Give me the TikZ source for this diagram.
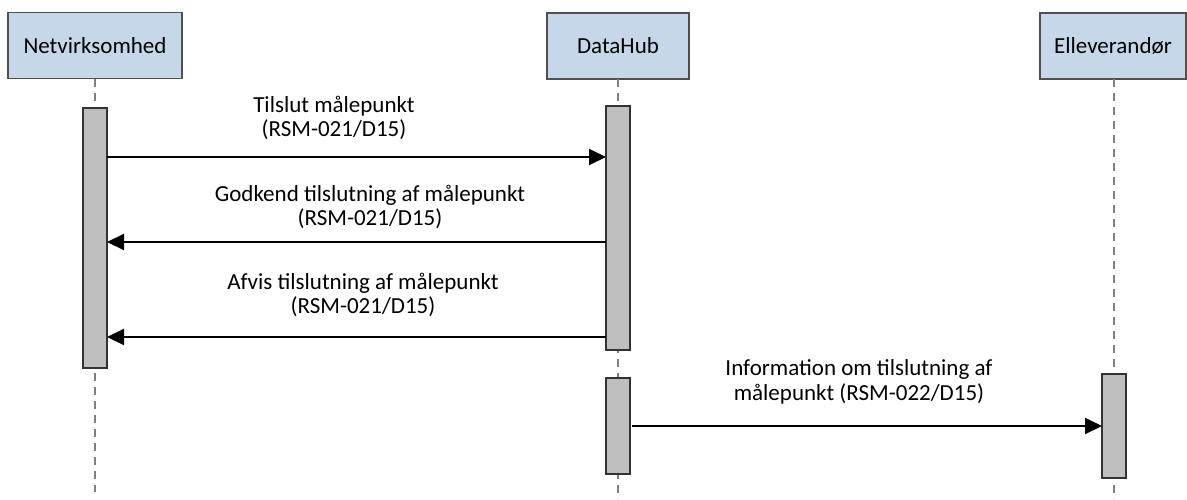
\documentclass[tikz,border=0pt]{standalone}
\usepackage{fontspec}
\setmainfont{Carlito}
\usetikzlibrary{arrows.meta}
\definecolor{actorfill}{RGB}{197,215,233}
\definecolor{actordraw}{RGB}{80,80,80}
\definecolor{barfill}{RGB}{191,191,191}
\definecolor{lifecol}{RGB}{128,128,128}
\tikzset{
  actor/.style={draw=actordraw, fill=actorfill, line width=1.5pt, minimum height=66pt, inner sep=0pt, outer sep=0pt, font=\fontsize{23}{24.5}\selectfont},
  bar/.style={draw=black!80, fill=barfill, line width=1.5pt, minimum width=24pt, inner sep=0pt, outer sep=0pt},
  life/.style={draw=lifecol, line width=1.5pt, dash pattern=on 8pt off 6pt},
  msg/.style={draw=black, line width=2pt, -{Triangle[length=17pt,width=16pt]}},
  lbl/.style={align=center, inner sep=0pt, font=\fontsize{23}{24.5}\selectfont}
}
\begin{document}
\begin{tikzpicture}[x=1pt,y=-1pt]
\useasboundingbox (0,0) rectangle (1187,499);
% actors
\node[actor, minimum width=174pt] (nv) at (95,45.5) {Netvirksomhed};
\node[actor, minimum width=142pt] (dh) at (618,46) {DataHub};
\node[actor, minimum width=146pt] (el) at (1113,46) {Elleverandør};
% lifeline ends
\coordinate (nvend) at (95,492);
\coordinate (dhend) at (618,499);
\coordinate (elend) at (1114,499);
\draw[life] (nv.south) -- (nvend);
\draw[life] (dh.south) -- (dhend);
\draw[life] (el.south -| elend) -- (elend);
% activation bars
\node[bar, minimum height=260pt] (b1) at (95,238) {};
\node[bar, minimum height=244pt] (b2) at (618,228) {};
\node[bar, minimum height=96pt] (b3) at (618,426) {};
\node[bar, minimum height=104pt] (b4) at (1114,426) {};
% messages
\draw[msg] (b1.east |- 0,157) -- (b2.west |- 0,157);
\draw[msg] (b2.west |- 0,242) -- (b1.east |- 0,242);
\draw[msg] (b2.west |- 0,337) -- (b1.east |- 0,337);
\draw[msg] ([xshift=2pt]b3.east |- 0,426) -- (b4.west |- 0,426);
% labels
\node[lbl] (l1) at (334,118) {Tilslut målepunkt\\(RSM-021/D15)};
\node[lbl] (l2) at (370,207) {Godkend tilslutning af målepunkt\\(RSM-021/D15)};
\node[lbl] (l3) at (363,295) {Afvis tilslutning af målepunkt\\(RSM-021/D15)};
\node[lbl] (l4) at (859,382) {Information om tilslutning af\\målepunkt (RSM-022/D15)};
\end{tikzpicture}
\end{document}
